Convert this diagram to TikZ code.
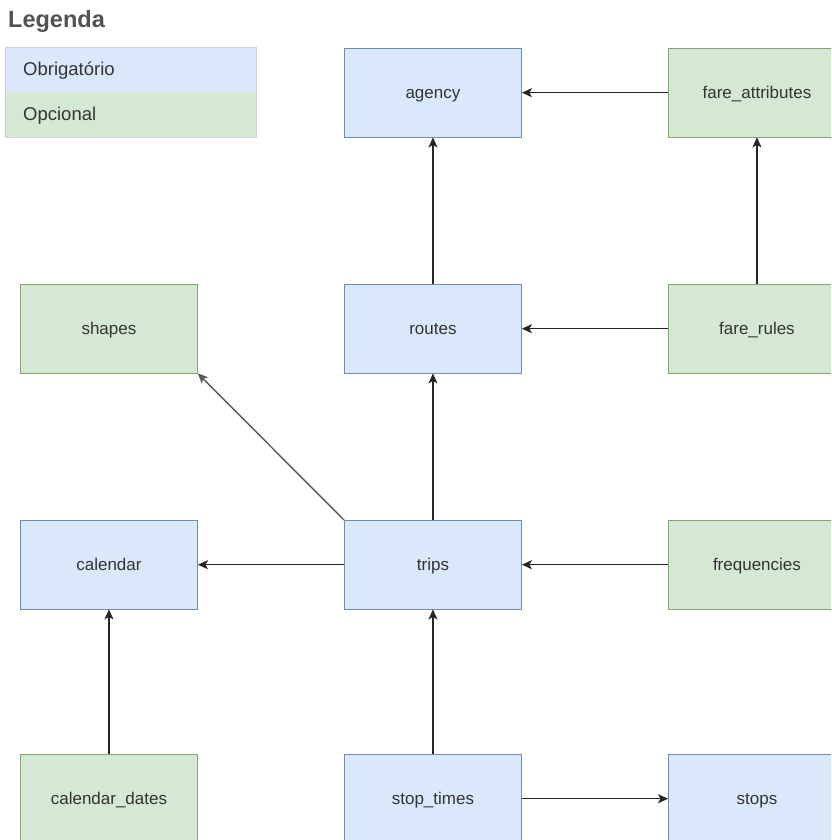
\documentclass[tikz,border=0pt]{standalone}
\usepackage{fontspec}
\setmainfont{Liberation Sans}
\usetikzlibrary{arrows.meta}
\definecolor{reqfill}{HTML}{DAE8FC}
\definecolor{reqline}{HTML}{6C8EBF}
\definecolor{optfill}{HTML}{D5E8D4}
\definecolor{optline}{HTML}{82B366}
\definecolor{txt}{HTML}{333333}
\tikzset{
  box/.style={draw, line width=0.9pt, minimum width=177pt, minimum height=88.5pt, inner sep=0pt, anchor=north west, text=txt, text height=13.5pt, text depth=2.5pt, font=\fontsize{17}{20}\selectfont},
  req/.style={box, fill=reqfill, draw=reqline!80!gray},
  opt/.style={box, fill=optfill, draw=optline!80!gray},
  conn/.style={line width=1.4pt, draw=black!85, -{Stealth[length=10pt,width=9pt,inset=2.5pt]}},
  legitem/.style={anchor=base west, inner sep=0pt, text=txt, font=\fontsize{18.5}{22}\selectfont},
}
\begin{document}
\begin{tikzpicture}[x=1pt,y=-1pt]
\useasboundingbox (0,0) rectangle (831,840);
\clip (0,0) rectangle (831,840);
% legend
\node[anchor=base west, inner sep=0pt, text=black!68, font=\bfseries\fontsize{23.5}{28}\selectfont] (legtitle) at (8,28) {Legenda};
\fill[reqfill] (5,47.5) rectangle (256,92);
\fill[optfill] (5,92) rectangle (256,137);
\draw[black!18, line width=0.8pt] (5,47.5) rectangle (256,137);
\node[legitem] (legreq) at (23,76) {Obrigatório};
\node[legitem] (legopt) at (23,120.5) {Opcional};
% boxes
\node[req] (agency) at (344,48) {agency};
\node[opt] (fareattr) at (668,48) {fare\_attributes};
\node[opt] (shapes) at (20,284) {shapes};
\node[req] (routes) at (344,284) {routes};
\node[opt] (farerules) at (668,284) {fare\_rules};
\node[req] (calendar) at (20,520) {calendar};
\node[req] (trips) at (344,520) {trips};
\node[opt] (freq) at (668,520) {frequencies};
\node[opt] (caldates) at (20,754) {calendar\_dates};
\node[req] (stoptimes) at (344,754) {stop\_times};
\node[req] (stops) at (668,754) {stops};
% connectors
\draw[conn] (fareattr.west) -- (agency.east);
\draw[conn] (routes.north) -- (agency.south);
\draw[conn] (farerules.north) -- (fareattr.south);
\draw[conn] (farerules.west) -- (routes.east);
\draw[conn] (trips.north) -- (routes.south);
\draw[conn, draw=black!65] (trips.north west) -- (shapes.south east);
\draw[conn] (trips.west) -- (calendar.east);
\draw[conn] (freq.west) -- (trips.east);
\draw[conn] (caldates.north) -- (calendar.south);
\draw[conn] (stoptimes.north) -- (trips.south);
\draw[conn] (stoptimes.east) -- (stops.west);
\end{tikzpicture}
\end{document}
